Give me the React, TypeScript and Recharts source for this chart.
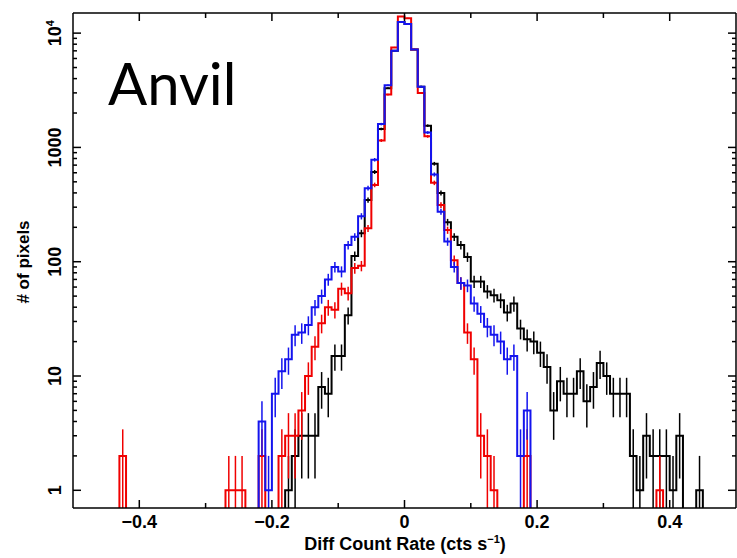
import { ComposedChart, ErrorBar, Line, XAxis, YAxis } from "recharts"

// histogram bins: 0.01 wide, centres from -0.495 to 0.495
const binCenters = Array.from({ length: 100 }, (_, i) => Math.round((-0.495 + i * 0.01) * 1000) / 1000)

// counts per bin (index 0 = -0.495)
const blackCounts = [
  0, 0, 0, 0, 0, 0, 0, 0, 0, 0,
  0, 0, 0, 0, 0, 0, 0, 0, 0, 0,
  0, 0, 0, 0, 0, 0, 0, 0, 0, 0,
  0, 0, 1, 2, 3, 3, 3, 8, 7, 15,
  15, 34, 112, 177, 346, 610, 1450, 3300, 7000, 12500,
  12000, 7200, 3400, 1550, 720, 400, 222, 165, 140, 110,
  67, 67, 55, 51, 46, 36, 43, 26, 21, 20,
  16, 12, 5, 9, 7, 7, 11, 6, 8, 13,
  10, 7, 7, 7, 2, 1, 3, 2, 2, 2,
  1, 3, 0, 0, 1, 0, 0, 0, 0, 0,
]

const redCounts = [
  0, 0, 0, 0, 0, 0, 0, 2, 0, 0,
  0, 0, 0, 0, 0, 0, 0, 0, 0, 0,
  0, 0, 0, 1, 1, 1, 0, 0, 2, 0,
  0, 2, 3, 3, 5, 10, 18, 29, 40, 38,
  58, 53, 88, 92, 196, 470, 1150, 2900, 7500, 14000,
  13500, 7200, 3000, 1250, 490, 313, 189, 103, 65, 24,
  14, 3, 2, 1, 0, 0, 0, 0, 2, 0,
  0, 0, 0, 0, 0, 0, 0, 0, 0, 0,
  0, 0, 0, 0, 0, 0, 0, 0, 1, 0,
  0, 0, 0, 0, 0, 0, 0, 0, 0, 0,
]

const blueCounts = [
  0, 0, 0, 0, 0, 0, 0, 0, 0, 0,
  0, 0, 0, 0, 0, 0, 0, 0, 0, 0,
  0, 0, 0, 0, 0, 0, 0, 0, 4, 1,
  7, 11, 14, 23, 24, 28, 40, 50, 70, 90,
  82, 140, 165, 250, 440, 780, 1600, 3500, 7000, 12500,
  12000, 7200, 3400, 1350, 580, 274, 150, 90, 65, 62,
  43, 35, 27, 23, 20, 14, 15, 2, 5, 0,
  0, 0, 0, 0, 0, 0, 0, 0, 0, 0,
  0, 0, 0, 0, 0, 0, 0, 0, 0, 0,
  0, 0, 0, 0, 0, 0, 0, 0, 0, 0,
]

const xTicks = [-0.4, -0.3, -0.2, -0.1, 0, 0.1, 0.2, 0.3, 0.4]
const xLabelTicks = [-0.4, -0.2, 0, 0.2, 0.4]
const yTicks = [
  1, 2, 3, 4, 5, 6, 7, 8, 9,
  10, 20, 30, 40, 50, 60, 70, 80, 90,
  100, 200, 300, 400, 500, 600, 700, 800, 900,
  1000, 2000, 3000, 4000, 5000, 6000, 7000, 8000, 9000,
  10000,
]
const yLabelTicks = [1, 10, 100, 1000, 10000]

const Y_MIN = 0.7
const Y_MAX = 15000
const EMPTY = 0.3 // empty bins sit below the axis and get clipped

const shown = (n: number) => (n > 0 ? n : EMPTY)
const poisson = (n: number) =>
  n > 0 ? [n - Math.max(n - Math.sqrt(n), Y_MIN), Math.sqrt(n)] : [0, 0]

const data = binCenters.map((x, i) => ({
  x,
  black: shown(blackCounts[i]),
  blackErr: poisson(blackCounts[i]),
  red: shown(redCounts[i]),
  redErr: poisson(redCounts[i]),
  blue: shown(blueCounts[i]),
  blueErr: poisson(blueCounts[i]),
}))

const FONT = "'Liberation Sans', Arial, sans-serif"

const fmtX = (v: number) => (v === 0 ? "0" : (v < 0 ? "\u2212" : "") + Math.abs(v))

function BottomTick({ x, y, payload }: any) {
  const major = xLabelTicks.includes(payload.value)
  return (
    <g>
      <line x1={x} x2={x} y1={y} y2={y - (major ? 8 : 5)} stroke="#000" strokeWidth={1.5} />
      {major && (
        <text x={x} y={y + 20} textAnchor="middle" fontFamily={FONT} fontWeight="bold" fontSize={18} fill="#000">
          {fmtX(payload.value)}
        </text>
      )}
    </g>
  )
}

function TopTick({ x, y, payload }: any) {
  const major = xLabelTicks.includes(payload.value)
  return <line x1={x} x2={x} y1={y} y2={y + (major ? 8 : 5)} stroke="#000" strokeWidth={1.5} />
}

function LeftTick({ x, y, payload }: any) {
  const v = payload.value
  const major = yLabelTicks.includes(v)
  const cx = x - 18
  return (
    <g>
      <line x1={x} x2={x + (major ? 8 : 4)} y1={y} y2={y} stroke="#000" strokeWidth={1.5} />
      {major && (
        <text
          x={cx}
          y={y}
          dy="0.35em"
          textAnchor="middle"
          transform={`rotate(-90 ${cx} ${y})`}
          fontFamily={FONT}
          fontWeight="bold"
          fontSize={18}
          fill="#000"
        >
          {v === 10000 ? (
            <>
              10
              <tspan dy={-7} fontSize={11}>4</tspan>
            </>
          ) : (
            String(v)
          )}
        </text>
      )}
    </g>
  )
}

function RightTick({ x, y, payload }: any) {
  const major = yLabelTicks.includes(payload.value)
  return <line x1={x} x2={x - (major ? 8 : 4)} y1={y} y2={y} stroke="#000" strokeWidth={1.5} />
}

const series = [
  { key: "black", err: "blackErr", color: "#000000" },
  { key: "red", err: "redErr", color: "#f00000" },
  { key: "blue", err: "blueErr", color: "#1414ee" },
]

const axisLine = { stroke: "#000", strokeWidth: 1.5 }

export default function App() {
  return (
    <div style={{ position: "absolute", left: 0, top: 0, width: 737, height: 558, background: "#fff" }}>
      <ComposedChart width={737} height={558} data={data} margin={{ top: 0, right: 0, bottom: 0, left: 0 }}>
        <XAxis
          dataKey="x"
          type="number"
          domain={[-0.5, 0.5]}
          allowDataOverflow
          ticks={xTicks}
          interval={0}
          height={50}
          tickSize={0}
          tickMargin={0}
          tickLine={false}
          tick={BottomTick}
          axisLine={axisLine}
        />
        <XAxis
          xAxisId="top"
          orientation="top"
          dataKey="x"
          type="number"
          domain={[-0.5, 0.5]}
          allowDataOverflow
          ticks={xTicks}
          interval={0}
          height={13}
          tickSize={0}
          tickMargin={0}
          tickLine={false}
          tick={TopTick}
          axisLine={axisLine}
        />
        <YAxis
          type="number"
          scale="log"
          domain={[Y_MIN, Y_MAX]}
          allowDataOverflow
          ticks={yTicks}
          interval={0}
          width={73}
          tickSize={0}
          tickMargin={0}
          tickLine={false}
          tick={LeftTick}
          axisLine={axisLine}
        />
        <YAxis
          yAxisId="right"
          orientation="right"
          type="number"
          scale="log"
          domain={[Y_MIN, Y_MAX]}
          allowDataOverflow
          ticks={yTicks}
          interval={0}
          width={1}
          tickSize={0}
          tickMargin={0}
          tickLine={false}
          tick={RightTick}
          axisLine={axisLine}
        />
        {series.map((s) => (
          <Line
            key={s.key}
            dataKey={s.key}
            type="step"
            stroke={s.color}
            strokeWidth={2}
            dot={false}
            activeDot={false}
            isAnimationActive={false}
          >
            <ErrorBar dataKey={s.err} direction="y" width={0} stroke={s.color} strokeWidth={1.5} />
          </Line>
        ))}
      </ComposedChart>
      <svg width={737} height={558} style={{ position: "absolute", left: 0, top: 0, pointerEvents: "none" }}>
        <text x={108} y={105} fontFamily="Lato, 'Open Sans', sans-serif" fontSize={58} fill="#000">
          Anvil
        </text>
        <text x={405} y={550} textAnchor="middle" fontFamily={FONT} fontWeight="bold" fontSize={18} fill="#000">
          Diff Count Rate (cts s
          <tspan dy={-7} fontSize={11}>{"\u22121"}</tspan>
          <tspan dy={7}>)</tspan>
        </text>
        <text
          x={23}
          y={262}
          dy="0.35em"
          textAnchor="middle"
          transform="rotate(-90 23 262)"
          fontFamily={FONT}
          fontWeight="bold"
          fontSize={17}
          fill="#000"
        >
          # of pixels
        </text>
      </svg>
    </div>
  )
}
